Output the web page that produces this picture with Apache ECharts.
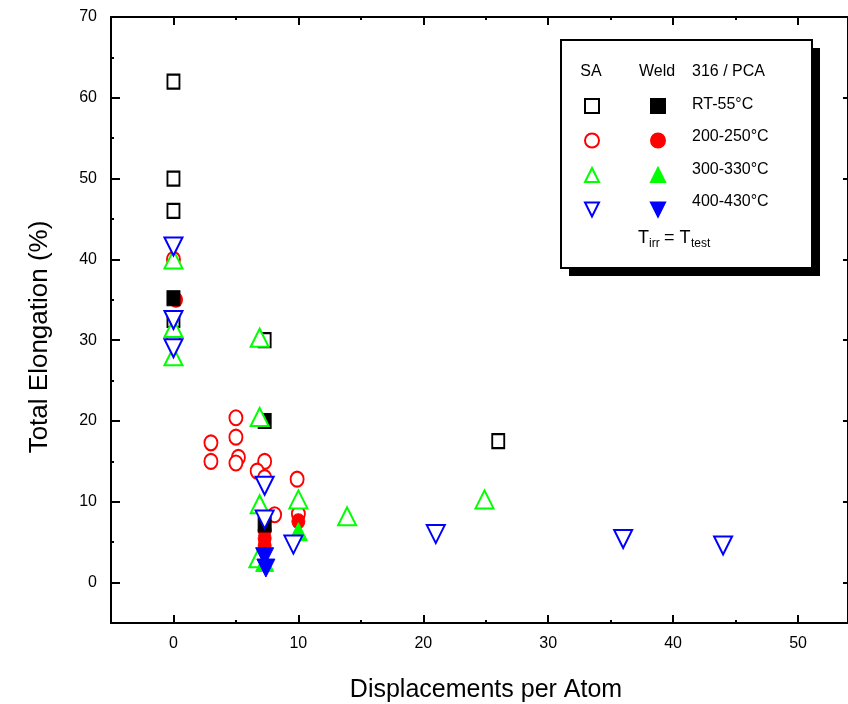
<!DOCTYPE html>
<html>
<head>
<meta charset="utf-8">
<script src="https://cdn.jsdelivr.net/npm/echarts@6/dist/echarts.min.js"></script>
<style>html,body{margin:0;padding:0;background:#fff}#c{width:848px;height:704px}</style>
</head>
<body>
<div id="c"></div>
<script>
// ---- data (x = displacements per atom, y = total elongation %) ----
const saRT_x   = [0, 0, 0, 0, 7.3, 26];
const saRT_y   = [62, 50, 46, 32.5, 30, 17.5];
const sa200_x  = [0, 0, 3, 3, 5, 5, 5.2, 5.0, 7.3, 6.7, 7.3, 8.1, 9.9, 10];
const sa200_y  = [40, 30.5, 17.3, 15, 20.4, 18, 15.5, 14.8, 15, 13.8, 13, 8.4, 12.8, 8.5];
const sa300_x  = [0, 0, 0, 6.9, 6.9, 6.9, 6.8, 10, 13.9, 24.9];
const sa300_y  = [40, 31.5, 28, 30.3, 20.5, 9.7, 3, 10.3, 8.2, 10.3];
const sa400_x  = [0, 0, 0, 7.3, 7.3, 9.6, 21, 36, 44];
const sa400_y  = [41.6, 32.5, 29, 12, 7.8, 4.7, 6, 5.4, 4.6];
const wRT_x    = [0, 7.3, 7.3];
const wRT_y    = [35.2, 20, 7.2];
const w200_x   = [0.2, 10, 7.3, 7.3, 7.3];
const w200_y   = [35, 7.6, 6.5, 5.5, 4.6];
const w300_x   = [10, 7.3];
const w300_y   = [6.3, 2.5];
const w400_x   = [7.3, 7.4];
const w400_y   = [3.2, 1.8];

const xMajor = [0, 10, 20, 30, 40, 50];
const xMinor = [5, 15, 25, 35, 45];
const yMajor = [0, 10, 20, 30, 40, 50, 60, 70];
const yMinor = [5, 15, 25, 35, 45, 55, 65];

const tempLabels = ['RT-55°C', '200-250°C', '300-330°C', '400-430°C'];
const headers = ['SA', 'Weld', '316 / PCA'];
const xTitle = 'Displacements per Atom';
const yTitle = 'Total Elongation (%)';

const pair = (xs, ys) => xs.map((x, i) => [x, ys[i]]);
const INV = 'path://M0,0 L10,0 L5,10 Z';
const FONT = 'Liberation Sans, Arial, sans-serif';

function mk(name, xs, ys, symbol, size, color, filled, z) {
  return {
    name, type: 'scatter', data: pair(xs, ys), symbol, symbolSize: size, z: z,
    itemStyle: filled ? {color: color, borderColor: color, borderWidth: 1, opacity: 1}
                      : {color: '#fff', borderColor: color, borderWidth: 2, opacity: 1},
    emphasis: {disabled: true}, animation: false
  };
}

const series = [
  mk('SA ' + tempLabels[0], saRT_x, saRT_y, 'rect', [12, 14], '#000', false, 2),
  mk('SA ' + tempLabels[1], sa200_x, sa200_y, 'circle', [13, 15], '#ff0000', false, 3),
  mk('Weld ' + tempLabels[1], w200_x, w200_y, 'circle', [13, 15], '#ff0000', true, 4),
  mk('Weld ' + tempLabels[0], wRT_x, wRT_y, 'rect', [13, 15], '#000', true, 5),
  mk('SA ' + tempLabels[2], sa300_x, sa300_y, 'triangle', [18, 18], '#00ff00', false, 6),
  mk('Weld ' + tempLabels[2], w300_x, w300_y, 'triangle', [18, 18], '#00ff00', true, 7),
  mk('SA ' + tempLabels[3], sa400_x, sa400_y, INV, [18, 18], '#0000ff', false, 8),
  mk('Weld ' + tempLabels[3], w400_x, w400_y, INV, [18, 18], '#0000ff', true, 9)
];

const lineStyle = {color: '#000', width: 2};
const axBase = {min: -5, splitLine: {show: false}};
const lineOn = {onZero: false, lineStyle: lineStyle};
const lineOff = {show: false, onZero: false};
const XMAX = 54;

const chart = echarts.init(document.getElementById('c'), null, {renderer: 'canvas'});
const legBox = {l: 561, t: 40, r: 812, b: 268};

const legendCommon = {
  orient: 'vertical', itemWidth: 14, itemHeight: 14, itemGap: 18.5, padding: 0,
  formatter: () => '', selectedMode: false, textStyle: {fontSize: 1}, z: 20
};

chart.setOption({
  backgroundColor: '#fff',
  animation: false,
  grid: {left: 111, top: 17, right: 0, bottom: 81},
  xAxis: [
    Object.assign({}, axBase, {type: 'value', max: XMAX, position: 'bottom',
      axisLine: lineOn,
      axisTick: {inside: true, length: 8, lineStyle: {width: 2, color: '#000'}, customValues: xMajor},
      axisLabel: {customValues: xMajor, fontFamily: FONT, fontSize: 16, color: '#000', margin: 13}}),
    Object.assign({}, axBase, {type: 'value', max: XMAX, position: 'bottom',
      axisLine: lineOff,
      axisTick: {inside: true, length: 3, lineStyle: {width: 2, color: '#000'}, customValues: xMinor},
      axisLabel: {show: false}}),
    Object.assign({}, axBase, {type: 'value', max: XMAX, position: 'top',
      axisLine: lineOn,
      axisTick: {inside: true, length: 8, lineStyle: {width: 2, color: '#000'}, customValues: xMajor},
      axisLabel: {show: false}}),
    Object.assign({}, axBase, {type: 'value', max: XMAX, position: 'top',
      axisLine: lineOff,
      axisTick: {inside: true, length: 3, lineStyle: {width: 2, color: '#000'}, customValues: xMinor},
      axisLabel: {show: false}})
  ],
  yAxis: [
    Object.assign({}, axBase, {type: 'value', max: 70, position: 'left',
      axisLine: lineOn,
      axisTick: {inside: true, length: 9, lineStyle: {width: 2, color: '#000'}, customValues: yMajor},
      axisLabel: {customValues: yMajor, fontFamily: FONT, fontSize: 16, color: '#000', margin: 14}}),
    Object.assign({}, axBase, {type: 'value', max: 70, position: 'left',
      axisLine: lineOff,
      axisTick: {inside: true, length: 3, lineStyle: {width: 2, color: '#000'}, customValues: yMinor},
      axisLabel: {show: false}}),
    Object.assign({}, axBase, {type: 'value', max: 70, position: 'right',
      axisLine: lineOn,
      axisTick: {inside: true, length: 5, lineStyle: {width: 2, color: '#000'}, customValues: yMajor},
      axisLabel: {show: false}})
  ],
  legend: [
    Object.assign({}, legendCommon, {left: 584, top: 98,
      data: ['SA ' + tempLabels[0], 'SA ' + tempLabels[1], 'SA ' + tempLabels[2], 'SA ' + tempLabels[3]]}),
    Object.assign({}, legendCommon, {left: 650, top: 98,
      data: ['Weld ' + tempLabels[0], 'Weld ' + tempLabels[1], 'Weld ' + tempLabels[2], 'Weld ' + tempLabels[3]]})
  ],
  graphic: [
    {type: 'text', z: 21, x: 486, y: 690, style: {text: xTitle, font: '25px ' + FONT, fill: '#000', align: 'center', verticalAlign: 'middle'}},
    {type: 'text', z: 21, x: 40, y: 337, rotation: Math.PI / 2, style: {text: yTitle, font: '26px ' + FONT, fill: '#000', align: 'center', verticalAlign: 'middle'}},
    {type: 'rect', z: 15, shape: {x: legBox.l + 8, y: legBox.t + 8, width: legBox.r - legBox.l, height: legBox.b - legBox.t},
      style: {fill: '#000'}},
    {type: 'rect', z: 16, shape: {x: legBox.l, y: legBox.t, width: legBox.r - legBox.l, height: legBox.b - legBox.t},
      style: {fill: '#fff', stroke: '#000', lineWidth: 2}},
    {type: 'text', z: 21, x: 591, y: 72, style: {text: headers[0], font: '16px ' + FONT, fill: '#000', align: 'center', verticalAlign: 'middle'}},
    {type: 'text', z: 21, x: 657, y: 72, style: {text: headers[1], font: '16px ' + FONT, fill: '#000', align: 'center', verticalAlign: 'middle'}},
    {type: 'text', z: 21, x: 692, y: 72, style: {text: headers[2], font: '16px ' + FONT, fill: '#000', align: 'left', verticalAlign: 'middle'}},
    {type: 'text', z: 21, x: 692, y: 105, style: {text: tempLabels[0], font: '16px ' + FONT, fill: '#000', verticalAlign: 'middle'}},
    {type: 'text', z: 21, x: 692, y: 137, style: {text: tempLabels[1], font: '16px ' + FONT, fill: '#000', verticalAlign: 'middle'}},
    {type: 'text', z: 21, x: 692, y: 170, style: {text: tempLabels[2], font: '16px ' + FONT, fill: '#000', verticalAlign: 'middle'}},
    {type: 'text', z: 21, x: 692, y: 202, style: {text: tempLabels[3], font: '16px ' + FONT, fill: '#000', verticalAlign: 'middle'}},
    {type: 'text', z: 21, x: 638, y: 238, style: {text: 'T', font: '18px ' + FONT, fill: '#000', verticalAlign: 'middle'}},
    {type: 'text', z: 21, x: 649, y: 244, style: {text: 'irr', font: '12px ' + FONT, fill: '#000', verticalAlign: 'middle'}},
    {type: 'text', z: 21, x: 664, y: 238, style: {text: '= T', font: '18px ' + FONT, fill: '#000', verticalAlign: 'middle'}},
    {type: 'text', z: 21, x: 691, y: 244, style: {text: 'test', font: '12px ' + FONT, fill: '#000', verticalAlign: 'middle'}}
  ],
  series: series
});
</script>
</body>
</html>
